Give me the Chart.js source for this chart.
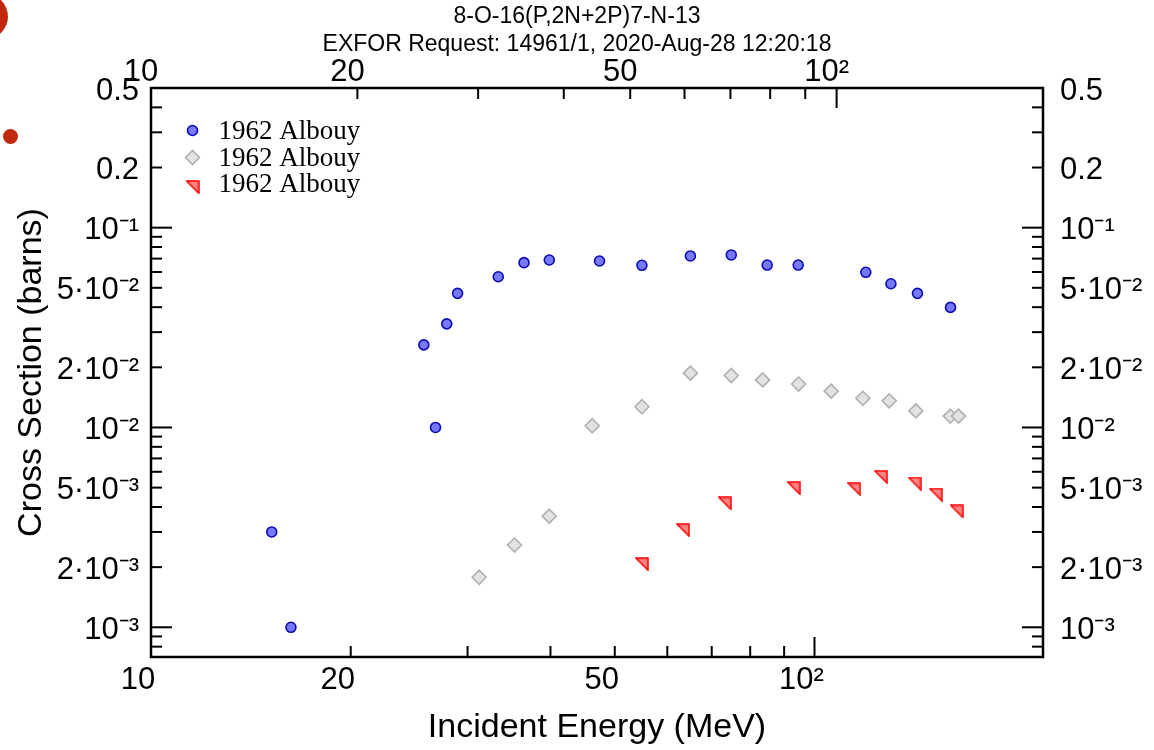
<!DOCTYPE html>
<html>
<head>
<meta charset="utf-8">
<script src="https://cdn.jsdelivr.net/npm/chart.js@4.4.1/dist/chart.umd.min.js"></script>
<style>
html,body{margin:0;padding:0;background:#fff;}
#wrap{position:relative;width:1154px;height:750px;overflow:hidden;}
canvas{display:block;}
.dot{position:absolute;border-radius:50%;background:#c0290f;}
</style>
</head>
<body>
<div id="wrap">
<canvas id="c" width="1154" height="750"></canvas>
<div class="dot" style="left:-37px;top:-6px;width:45px;height:45px"></div>
<div class="dot" style="left:3px;top:129px;width:15px;height:15px"></div>
</div>
<script>
// ---- texts ----
const titleLines = ['8-O-16(P,2N+2P)7-N-13', 'EXFOR Request: 14961/1, 2020-Aug-28 12:20:18'];
const xAxisTitle = 'Incident Energy (MeV)';
const yAxisTitle = 'Cross Section (barns)';
const seriesLabels = ['1962 Albouy', '1962 Albouy', '1962 Albouy'];

// ---- data (energy in MeV, cross section in barns) ----
const blueEnergy = [15.0, 16.0, 25.0, 26.0, 27.0, 28.0, 32.1, 35.0, 38.1, 45.1, 52.0, 61.2, 70.2, 79.2, 87.9, 110.3, 120.0, 131.2, 146.6];
const blueXS     = [3.0e-3, 1.0e-3, 0.0259, 0.0100, 0.0330, 0.0469, 0.0568, 0.0668, 0.0689, 0.0681, 0.0648, 0.0722, 0.0730, 0.0650, 0.0650, 0.0598, 0.0524, 0.0469, 0.0399];

const greyEnergy = [30.1, 33.9, 38.1, 44.0, 52.0, 61.2, 70.2, 78.0, 88.0, 98.2, 109.2, 119.3, 130.5, 146.5, 150.6];
const greyXS     = [1.78e-3, 2.58e-3, 3.60e-3, 0.0102, 0.0127, 0.0187, 0.0182, 0.0173, 0.0165, 0.0152, 0.0140, 0.0136, 0.0121, 0.0114, 0.0114];

const redEnergy  = [52.0, 59.7, 68.7, 86.6, 106.1, 116.0, 129.9, 139.5, 149.7];
const redXS      = [2.07e-3, 3.06e-3, 4.17e-3, 4.97e-3, 4.91e-3, 5.66e-3, 5.24e-3, 4.61e-3, 3.80e-3];

// ---- ticks ----
const xTicks = [10, 20, 30, 40, 50, 60, 70, 80, 90, 100];
const xMajorTicks = [10, 20, 50, 100];
const xMajorLabels = ['10', '20', '50', '10²'];
const yTicks = [0.5, 0.4, 0.3, 0.2, 0.1, 0.09, 0.08, 0.07, 0.06, 0.05, 0.04, 0.03, 0.02,
                0.01, 0.009, 0.008, 0.007, 0.006, 0.005, 0.004, 0.003, 0.002, 0.001, 0.0009, 0.0008];
const yMajorTicks = [0.5, 0.2, 0.1, 0.05, 0.02, 0.01, 0.005, 0.002, 0.001];
const yMajorLabels = ['0.5', '0.2', '10⁻¹', '5·10⁻²', '2·10⁻²', '10⁻²', '5·10⁻³', '2·10⁻³', '10⁻³'];
const decadeTicks = [10, 100, 0.1, 0.01, 0.001];

function near(a, b) { return Math.abs(a / b - 1) < 1e-6; }
function labelFor(v, majors, labels) {
  for (let i = 0; i < majors.length; i++) if (near(v, majors[i])) return labels[i];
  return '';
}
function pts(xs, ys) { return xs.map((x, i) => ({x: x, y: ys[i]})); }

function makeTriangle() {
  const c = document.createElement('canvas');
  c.width = 14; c.height = 14;
  const g = c.getContext('2d');
  g.beginPath(); g.moveTo(1, 1); g.lineTo(13, 1); g.lineTo(13, 13); g.closePath();
  g.fillStyle = '#ff8282'; g.fill();
  g.strokeStyle = '#ff0000'; g.lineWidth = 1.5; g.lineJoin = 'miter'; g.stroke();
  return c;
}
const triImg = makeTriangle();

const SANS = '"Liberation Sans", Arial, Helvetica, sans-serif';
const SERIF = '"Liberation Serif", "Times New Roman", serif';
Chart.defaults.font.family = SANS;
Chart.defaults.color = '#000';

const frameTicks = {
  id: 'frameTicks',
  beforeDatasetsDraw(chart) {
    const ctx = chart.ctx, ca = chart.chartArea;
    ctx.save();
    ctx.strokeStyle = '#000'; ctx.lineWidth = 2; ctx.lineCap = 'butt';
    const isDec = v => decadeTicks.some(d => near(v, d));
    [['x', ca.top, 1], ['xb', ca.bottom, -1]].forEach(([id, y0, dir]) => {
      const s = chart.scales[id];
      s.ticks.forEach(t => {
        const p = s.getPixelForValue(t.value);
        if (p <= ca.left + 1 || p >= ca.right - 1) return;
        const len = isDec(t.value) ? 20 : 11;
        ctx.beginPath(); ctx.moveTo(p, y0); ctx.lineTo(p, y0 + dir * len); ctx.stroke();
      });
    });
    [['y', ca.left, 1], ['y2', ca.right, -1]].forEach(([id, x0, dir]) => {
      const s = chart.scales[id];
      s.ticks.forEach(t => {
        const p = s.getPixelForValue(t.value);
        if (p <= ca.top + 1 || p >= ca.bottom - 1) return;
        const len = isDec(t.value) ? 21 : 11;
        ctx.beginPath(); ctx.moveTo(x0, p); ctx.lineTo(x0 + dir * len, p); ctx.stroke();
      });
    });
    ctx.lineWidth = 2.5;
    ctx.strokeRect(ca.left, ca.top, ca.right - ca.left, ca.bottom - ca.top);
    ctx.restore();
  }
};

const insideLegend = {
  id: 'insideLegend',
  afterDatasetsDraw(chart) {
    const ctx = chart.ctx, ca = chart.chartArea;
    const mx = ca.left + 41.5, tx = ca.left + 67.5;
    const rows = [ca.top + 42.5, ca.top + 69.5, ca.top + 97];
    ctx.save();
    chart.data.datasets.forEach((ds, i) => {
      const y = rows[i];
      if (ds.pointStyle === 'circle') {
        ctx.beginPath(); ctx.arc(mx, y, ds.pointRadius, 0, Math.PI * 2);
        ctx.fillStyle = ds.backgroundColor; ctx.fill();
        ctx.lineWidth = ds.borderWidth; ctx.strokeStyle = ds.borderColor; ctx.stroke();
      } else if (ds.pointStyle === 'rectRot') {
        const r = ds.pointRadius;
        ctx.beginPath(); ctx.moveTo(mx - r, y); ctx.lineTo(mx, y - r); ctx.lineTo(mx + r, y); ctx.lineTo(mx, y + r); ctx.closePath();
        ctx.fillStyle = ds.backgroundColor; ctx.fill();
        ctx.lineWidth = ds.borderWidth; ctx.strokeStyle = ds.borderColor; ctx.stroke();
      } else {
        ctx.drawImage(ds.pointStyle, mx - 7, y - 5);
      }
      ctx.fillStyle = '#000';
      ctx.font = '27px ' + SERIF;
      ctx.textAlign = 'left'; ctx.textBaseline = 'middle';
      ctx.fillText(ds.label, tx, i === 2 ? y : y + 1);
    });
    ctx.restore();
  }
};

const tickFont = {size: 31, family: SANS};

new Chart(document.getElementById('c'), {
  type: 'scatter',
  data: {
    datasets: [
      {label: seriesLabels[0], data: pts(blueEnergy, blueXS), xAxisID: 'x', yAxisID: 'y',
       pointStyle: 'circle', pointRadius: 5, backgroundColor: '#7878fa', borderColor: '#0c0cb4', borderWidth: 1.6},
      {label: seriesLabels[1], data: pts(greyEnergy, greyXS), xAxisID: 'x', yAxisID: 'y',
       pointStyle: 'rectRot', pointRadius: 7, backgroundColor: '#e2e2e2', borderColor: '#b0b0b0', borderWidth: 1.6},
      {label: seriesLabels[2], data: pts(redEnergy, redXS), xAxisID: 'x', yAxisID: 'y',
       pointStyle: triImg, pointRadius: 7, backgroundColor: '#ff8282', borderColor: '#ff0000', borderWidth: 1.5}
    ]
  },
  options: {
    responsive: false, animation: false, devicePixelRatio: 1, events: [],
    layout: {padding: 0},
    plugins: {
      legend: {display: false},
      tooltip: {enabled: false},
      title: {display: true, text: titleLines, color: '#000',
              font: {size: 23, family: SANS, weight: 'normal', lineHeight: '28px'},
              padding: {top: 3, bottom: 0}}
    },
    scales: {
      x: {type: 'logarithmic', position: 'top', min: 10, max: 200,
          afterBuildTicks: s => { s.ticks = xTicks.map(v => ({value: v})); },
          afterFit: s => { s.height = 29; },
          grid: {display: false, drawTicks: false}, border: {display: false},
          ticks: {autoSkip: false, maxRotation: 0, minRotation: 0, padding: -3, labelOffset: -10, font: tickFont, color: '#000',
                  callback: v => labelFor(v, xMajorTicks, xMajorLabels)}},
      xb: {type: 'logarithmic', position: 'bottom', min: 10, max: 221,
          afterBuildTicks: s => { s.ticks = xTicks.map(v => ({value: v})); },
          afterFit: s => { s.height = 93; },
          grid: {display: false, drawTicks: false}, border: {display: false},
          ticks: {autoSkip: false, maxRotation: 0, minRotation: 0, padding: 5, labelOffset: -13, font: tickFont, color: '#000',
                  callback: v => labelFor(v, xMajorTicks, xMajorLabels)},
          title: {display: true, text: xAxisTitle, color: '#000', font: {size: 34, family: SANS}, padding: {top: 0, bottom: 2}}},
      y: {type: 'logarithmic', position: 'left', min: 7.1e-4, max: 0.5,
          afterBuildTicks: s => { s.ticks = yTicks.map(v => ({value: v})); },
          afterFit: s => { s.width = 151; },
          grid: {display: false, drawTicks: false}, border: {display: false},
          ticks: {autoSkip: false, padding: 12, labelOffset: 3, font: tickFont, color: '#000',
                  callback: v => labelFor(v, yMajorTicks, yMajorLabels)},
          title: {display: true, text: yAxisTitle, color: '#000', font: {size: 34, family: SANS}, padding: {top: 11, bottom: 0}}},
      y2: {type: 'logarithmic', position: 'right', min: 7.1e-4, max: 0.5,
          afterBuildTicks: s => { s.ticks = yTicks.map(v => ({value: v})); },
          afterFit: s => { s.width = 111; },
          grid: {display: false, drawTicks: false}, border: {display: false},
          ticks: {autoSkip: false, padding: 17, labelOffset: 3, font: tickFont, color: '#000',
                  callback: v => labelFor(v, yMajorTicks, yMajorLabels)}}
    }
  },
  plugins: [frameTicks, insideLegend]
});
</script>
</body>
</html>
